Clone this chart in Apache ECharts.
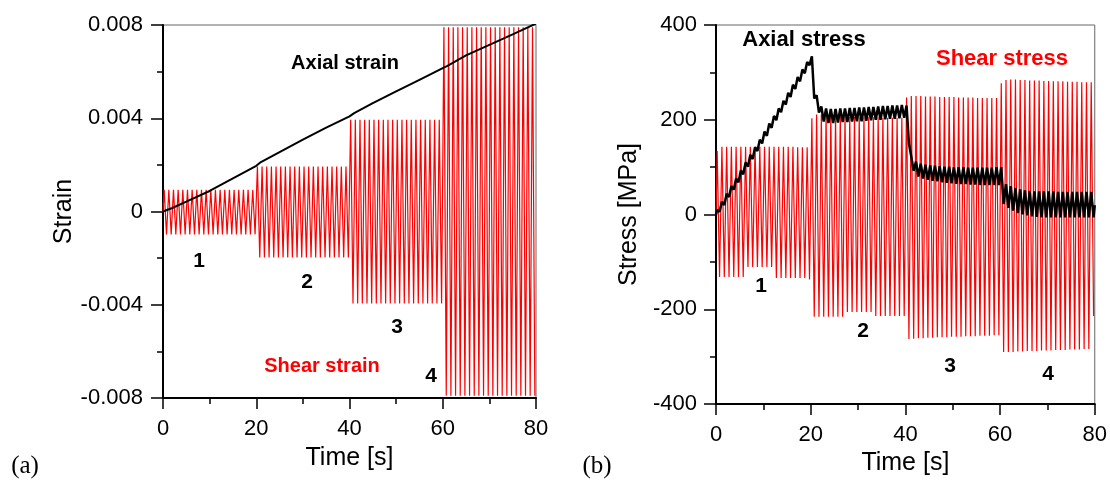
<!DOCTYPE html>
<html>
<head>
<meta charset="utf-8">
<script src="https://cdn.jsdelivr.net/npm/echarts@6/dist/echarts.min.js"></script>
<style>
html,body{margin:0;padding:0;background:#fff;}
#chart{width:1110px;height:486px;}
</style>
</head>
<body>
<div id="chart"></div>
<script>
// ---------- DATA ----------
// Panel (a): shear strain, peak values per 1 s loading cycle (80 cycles)
var shearStrainTop = [
  0.00093,0.00093,0.00093,0.00093,0.00093,0.00093,0.00093,0.00093,0.00093,0.00093,
  0.00093,0.00093,0.00093,0.00093,0.00093,0.00093,0.00093,0.00093,0.00093,0.00093,
  0.00193,0.00193,0.00193,0.00193,0.00193,0.00193,0.00193,0.00193,0.00193,0.00193,
  0.00193,0.00193,0.00193,0.00193,0.00193,0.00193,0.00193,0.00193,0.00193,0.00193,
  0.00393,0.00393,0.00393,0.00393,0.00393,0.00393,0.00393,0.00393,0.00393,0.00393,
  0.00393,0.00393,0.00393,0.00393,0.00393,0.00393,0.00393,0.00393,0.00393,0.00393,
  0.0079,0.0079,0.0079,0.0079,0.0079,0.0079,0.0079,0.0079,0.0079,0.0079,
  0.0079,0.0079,0.0079,0.0079,0.0079,0.0079,0.0079,0.0079,0.0079,0.0079
];
var shearStrainBottom = [
  -0.00098,-0.00098,-0.00098,-0.00098,-0.00098,-0.00098,-0.00098,-0.00098,-0.00098,-0.00098,
  -0.00098,-0.00098,-0.00098,-0.00098,-0.00098,-0.00098,-0.00098,-0.00098,-0.00098,-0.00098,
  -0.00197,-0.00197,-0.00197,-0.00197,-0.00197,-0.00197,-0.00197,-0.00197,-0.00197,-0.00197,
  -0.00197,-0.00197,-0.00197,-0.00197,-0.00197,-0.00197,-0.00197,-0.00197,-0.00197,-0.00197,
  -0.00395,-0.00395,-0.00395,-0.00395,-0.00395,-0.00395,-0.00395,-0.00395,-0.00395,-0.00395,
  -0.00395,-0.00395,-0.00395,-0.00395,-0.00395,-0.00395,-0.00395,-0.00395,-0.00395,-0.00395,
  -0.0079,-0.0079,-0.0079,-0.0079,-0.0079,-0.0079,-0.0079,-0.0079,-0.0079,-0.0079,
  -0.0079,-0.0079,-0.0079,-0.0079,-0.0079,-0.0079,-0.0079,-0.0079,-0.0079,-0.0079
];
// Panel (a): axial strain
var axialStrainTime  = [0, 2, 5, 10, 15, 20, 21, 25, 30, 35, 40, 41, 45, 50, 55, 60, 61, 65, 70, 75, 80];
var axialStrainValue = [0, 0.00015, 0.00042, 0.00088, 0.00142, 0.00196, 0.00212, 0.00255, 0.00308, 0.0036,
                        0.00408, 0.00422, 0.00465, 0.00515, 0.00565, 0.00615, 0.00625, 0.0067, 0.00715, 0.0076, 0.00806];

// Panel (b): shear stress, peak values per cycle [MPa]
var shearStressTop = [
  134,143,143,143,143,143,143,143,143,143,143,143,143,143,143,143,143,142,142,142,
  203,211,211,210,209,208,207,207,206,206,205,205,205,205,205,204,204,204,204,204,
  247,250,250,250,249,249,249,248,248,248,248,247,247,247,247,246,246,246,246,246,
  277,284,285,285,284,284,283,283,283,282,282,281,281,281,280,280,280,279,279,279
];
var shearStressBottom = [
  -132,-132,-132,-132,-132,-132,-111,-111,-111,-111,-111,-111,-134,-134,-134,-134,-134,-134,-134,-137,
  -216,-216,-216,-216,-216,-216,-216,-206,-206,-206,-206,-206,-206,-214,-214,-214,-214,-214,-214,-214,
  -263,-262,-261,-261,-260,-260,-259,-259,-259,-258,-258,-258,-257,-257,-257,-256,-256,-256,-255,-255,
  -290,-290,-290,-289,-289,-288,-288,-288,-287,-287,-287,-286,-286,-286,-285,-285,-285,-284,-284,-214
];
// Panel (b): axial stress, high / low value per cycle [MPa]
var axialStressHigh = [
  10,27,44,60,76,93,110,126,142,158,175,192,208,224,240,257,274,290,306,322,
  334,252,228,224,223,223,224,224,225,225,226,226,227,227,228,229,229,230,230,231,
  230,122,112,107,105,104,103,102,101,101,100,100,100,99,99,99,99,99,99,100,
  100,64,60,56,53,51,50,49,49,49,49,49,48,48,48,48,48,48,48,48
];
var axialStressLow = [
  6,20,37,52,68,85,101,117,134,150,166,183,199,216,232,248,265,281,298,315,
  245,215,196,193,193,194,195,195,196,197,197,198,199,200,200,201,202,202,203,204,
  150,92,80,76,73,71,70,68,67,66,65,64,64,63,63,62,62,62,62,62,
  22,14,8,3,0,-2,-4,-5,-6,-6,-6,-6,-6,-6,-6,-6,-6,-6,-6,-6
];
var axialStressEnd = 20;

var xTicks = [0, 20, 40, 60, 80];

// ---------- build series tables ----------
function cycles(tops, bottoms) {
  var d = [[0, 0]];
  for (var k = 0; k < tops.length; k++) {
    d.push([k + 0.25, tops[k]]);
    d.push([k + 0.75, bottoms[k]]);
  }
  return d;
}
var shearStrainData = cycles(shearStrainTop, shearStrainBottom);
var axialStrainData = axialStrainTime.map(function (t, i) { return [t, axialStrainValue[i]]; });
var shearStressData = cycles(shearStressTop, shearStressBottom);
var axialStressData = cycles(axialStressHigh, axialStressLow);
axialStressData.push([80, axialStressEnd]);

var FONT = "'Liberation Sans', Arial, Helvetica, sans-serif";

function xAxisCfg(gi, margin, gap) {
  return {
    type: 'value', gridIndex: gi, min: xTicks[0], max: xTicks[xTicks.length - 1], interval: 20,
    name: 'Time [s]', nameLocation: 'middle', nameGap: gap,
    nameTextStyle: { fontFamily: FONT, fontSize: 25, color: '#000' },
    axisLine: { show: true, onZero: false, lineStyle: { color: '#000', width: 2 } },
    axisTick: { show: true, inside: false, length: 11, lineStyle: { color: '#000', width: 1.5 } },
    minorTick: { show: true, splitNumber: 2, length: 6, lineStyle: { color: '#000', width: 1.5 } },
    axisLabel: { fontFamily: FONT, fontSize: 22, color: '#000', margin: margin },
    splitLine: { show: false }, minorSplitLine: { show: false }
  };
}
function yAxisCfg(gi, min, max, interval, name, gap, margin) {
  return {
    type: 'value', gridIndex: gi, min: min, max: max, interval: interval,
    name: name, nameLocation: 'middle', nameGap: gap, nameRotate: 90,
    nameTextStyle: { fontFamily: FONT, fontSize: 25, color: '#000' },
    axisLine: { show: true, onZero: false, lineStyle: { color: '#000', width: 2 } },
    axisTick: { show: true, inside: false, length: 12, lineStyle: { color: '#000', width: 1.5 } },
    minorTick: { show: true, splitNumber: 2, length: 6, lineStyle: { color: '#000', width: 1.5 } },
    axisLabel: { fontFamily: FONT, fontSize: 22, color: '#000', margin: margin },
    splitLine: { show: false }, minorSplitLine: { show: false }
  };
}

var chart = echarts.init(document.getElementById('chart'), null, { renderer: 'canvas' });
chart.setOption({
  animation: false,
  backgroundColor: '#fff',
  grid: [
    { left: 163, top: 25, width: 373, height: 373, show: true, borderColor: '#666', borderWidth: 1, containLabel: false },
    { left: 716, top: 25, width: 379, height: 379, show: true, borderColor: '#666', borderWidth: 1, containLabel: false }
  ],
  xAxis: [xAxisCfg(0, 20, 48), xAxisCfg(1, 20, 47)],
  yAxis: [
    yAxisCfg(0, -0.008, 0.008, 0.004, 'Strain', 86, 20),
    yAxisCfg(1, -400, 400, 200, 'Stress [MPa]', 74, 19)
  ],
  series: [
    { type: 'line', name: 'Shear strain', xAxisIndex: 0, yAxisIndex: 0, data: shearStrainData,
      showSymbol: false, lineStyle: { color: '#ff0000', width: 1.2 }, silent: true, z: 2 },
    { type: 'line', name: 'Axial strain', xAxisIndex: 0, yAxisIndex: 0, data: axialStrainData,
      showSymbol: false, lineStyle: { color: '#000', width: 2 }, silent: true, z: 3 },
    { type: 'line', name: 'Shear stress', xAxisIndex: 1, yAxisIndex: 1, data: shearStressData,
      showSymbol: false, lineStyle: { color: '#ff0000', width: 1.2 }, silent: true, z: 2 },
    { type: 'line', name: 'Axial stress', xAxisIndex: 1, yAxisIndex: 1, data: axialStressData,
      showSymbol: false, lineStyle: { color: '#000', width: 2.5 }, silent: true, z: 3 }
  ],
  graphic: [
    { type: 'text', x: 345, y: 63, z: 10, style: { text: 'Axial strain', font: "bold 20px " + FONT, fill: '#000', align: 'center', verticalAlign: 'middle' } },
    { type: 'text', x: 322, y: 366, z: 10, style: { text: 'Shear strain', font: "bold 20px " + FONT, fill: '#ff0000', align: 'center', verticalAlign: 'middle' } },
    { type: 'text', x: 199, y: 261, z: 10, style: { text: '1', font: "bold 21px " + FONT, fill: '#000', align: 'center', verticalAlign: 'middle' } },
    { type: 'text', x: 307, y: 282, z: 10, style: { text: '2', font: "bold 21px " + FONT, fill: '#000', align: 'center', verticalAlign: 'middle' } },
    { type: 'text', x: 397, y: 327, z: 10, style: { text: '3', font: "bold 21px " + FONT, fill: '#000', align: 'center', verticalAlign: 'middle' } },
    { type: 'text', x: 431, y: 376, z: 10, style: { text: '4', font: "bold 21px " + FONT, fill: '#000', align: 'center', verticalAlign: 'middle' } },
    { type: 'text', x: 804, y: 40, z: 10, style: { text: 'Axial stress', font: "bold 22px " + FONT, fill: '#000', align: 'center', verticalAlign: 'middle' } },
    { type: 'text', x: 1002, y: 59, z: 10, style: { text: 'Shear stress', font: "bold 22px " + FONT, fill: '#ff0000', align: 'center', verticalAlign: 'middle' } },
    { type: 'text', x: 761, y: 286, z: 10, style: { text: '1', font: "bold 21px " + FONT, fill: '#000', align: 'center', verticalAlign: 'middle' } },
    { type: 'text', x: 863, y: 331, z: 10, style: { text: '2', font: "bold 21px " + FONT, fill: '#000', align: 'center', verticalAlign: 'middle' } },
    { type: 'text', x: 950, y: 366, z: 10, style: { text: '3', font: "bold 21px " + FONT, fill: '#000', align: 'center', verticalAlign: 'middle' } },
    { type: 'text', x: 1048, y: 374, z: 10, style: { text: '4', font: "bold 21px " + FONT, fill: '#000', align: 'center', verticalAlign: 'middle' } },
    { type: 'text', x: 25, y: 466, z: 10, style: { text: '(a)', font: "25px 'Liberation Serif', 'Times New Roman', serif", fill: '#000', align: 'center', verticalAlign: 'middle' } },
    { type: 'text', x: 597, y: 466, z: 10, style: { text: '(b)', font: "25px 'Liberation Serif', 'Times New Roman', serif", fill: '#000', align: 'center', verticalAlign: 'middle' } }
  ]
});
</script>
</body>
</html>
